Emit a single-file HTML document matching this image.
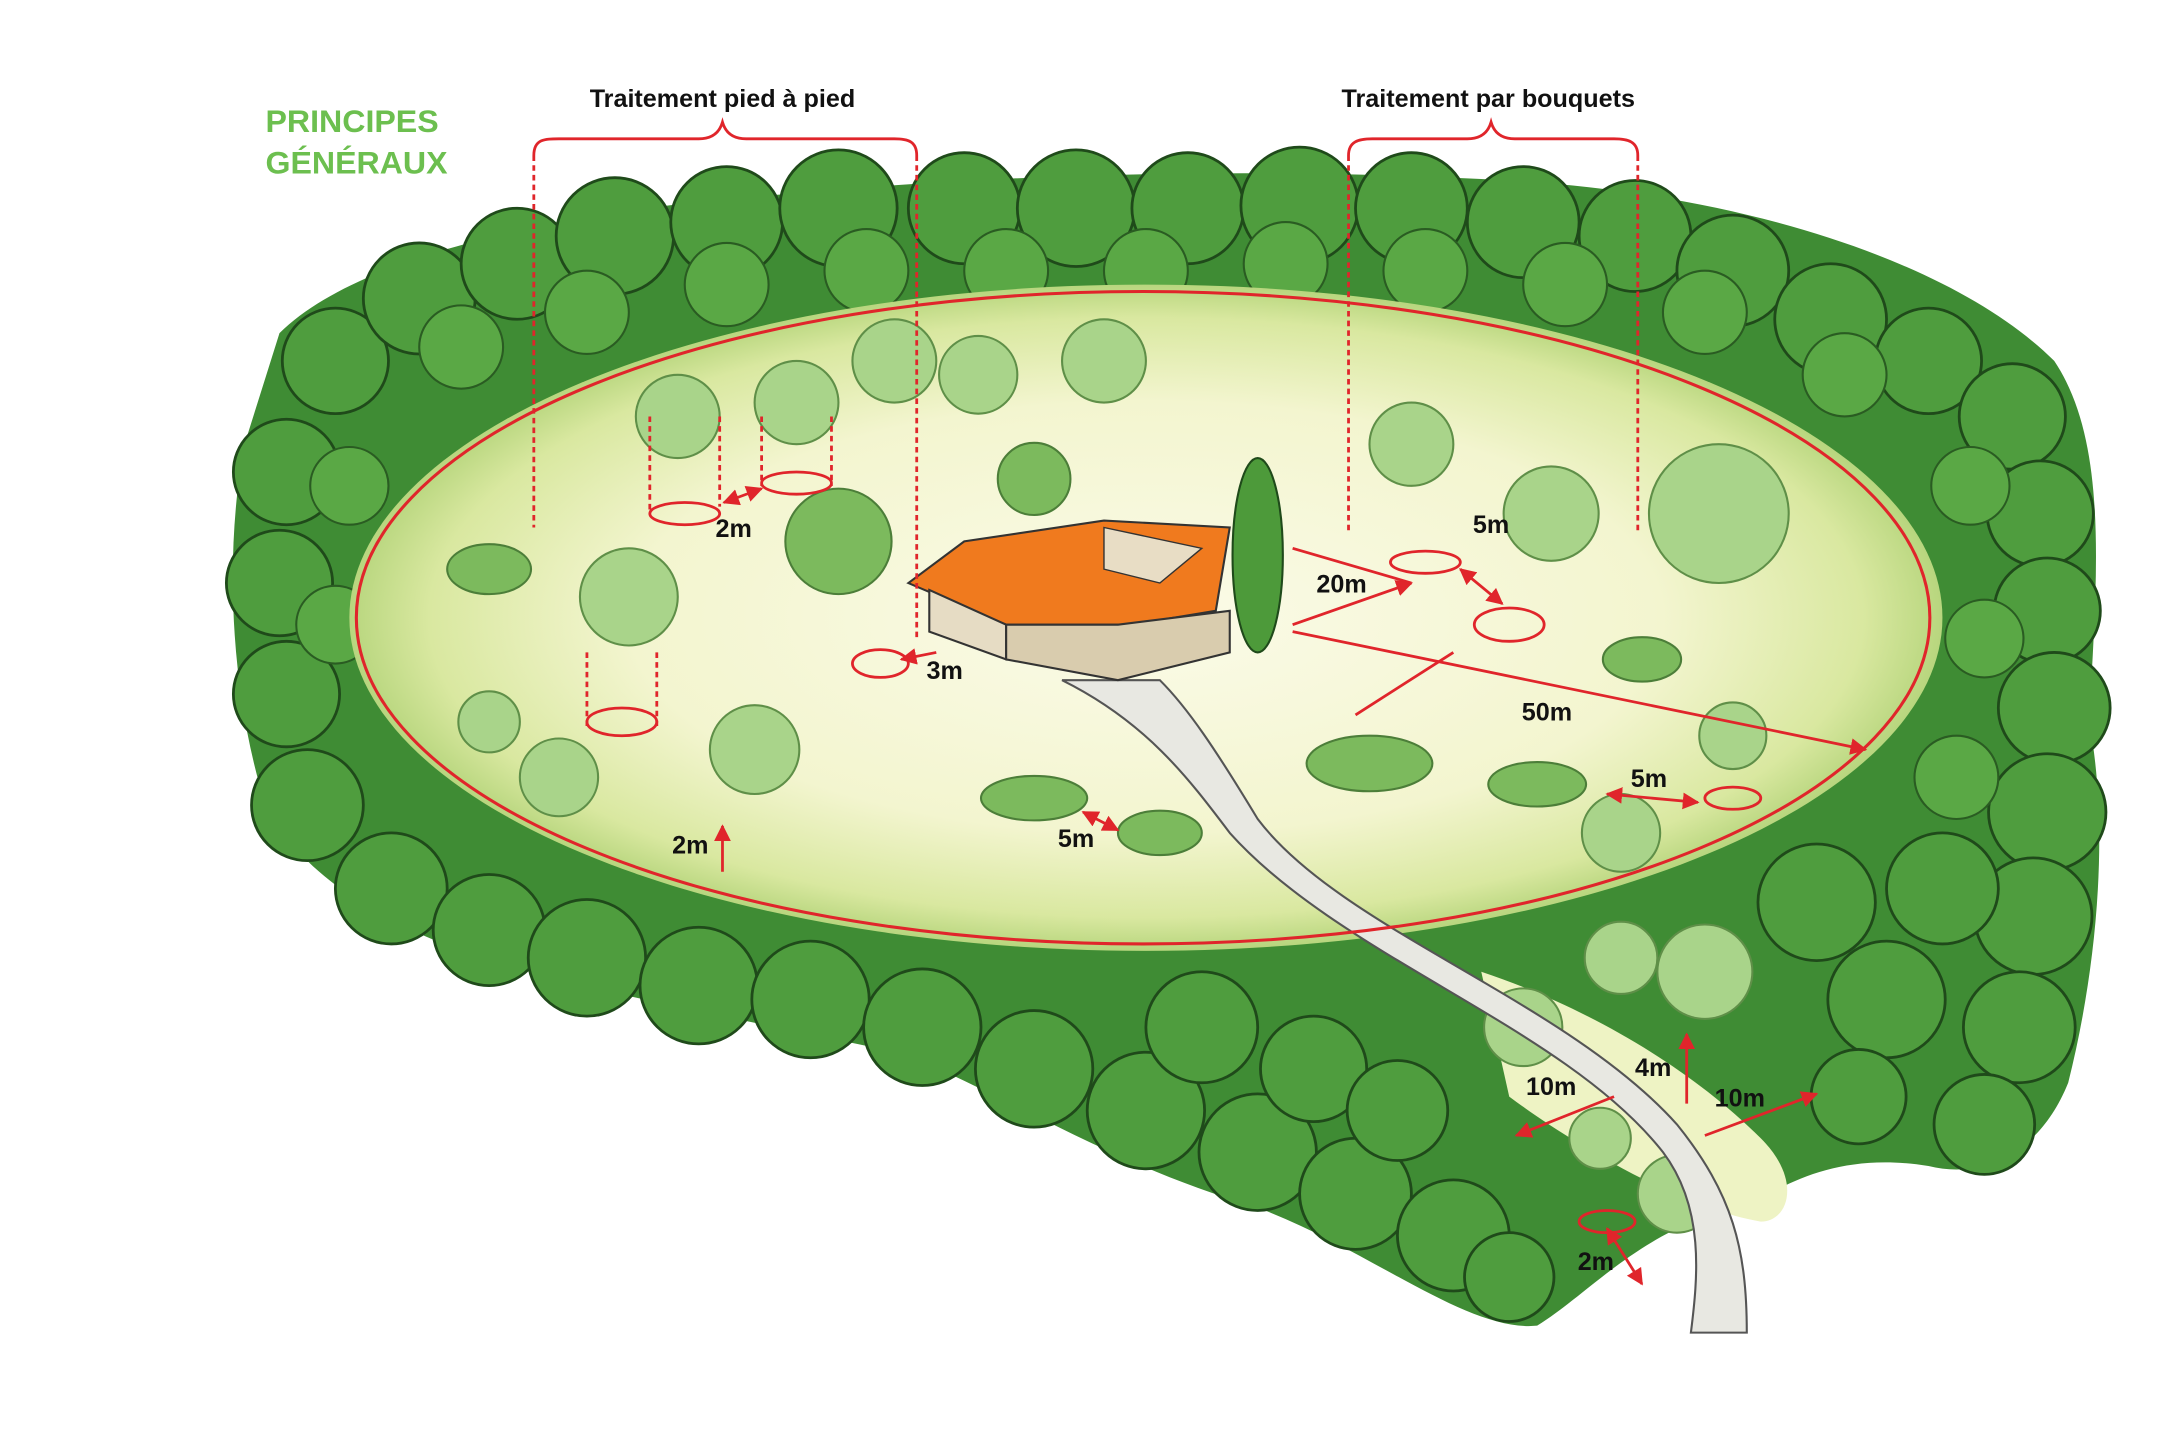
<!DOCTYPE html>
<html><head><meta charset="utf-8">
<style>
html,body{margin:0;padding:0;background:#fff;}
svg{display:block;}
text{font-family:"Liberation Sans",sans-serif;font-weight:bold;}
</style></head>
<body>
<svg width="2180" height="1452" viewBox="0 0 1560 1046" preserveAspectRatio="none" xmlns="http://www.w3.org/2000/svg">
<defs>
<radialGradient id="clr" cx="0.5" cy="0.5" r="0.5">
<stop offset="0" stop-color="#fbfbe8"/><stop offset="0.65" stop-color="#f3f5cf"/><stop offset="0.9" stop-color="#d9e8a0"/><stop offset="1" stop-color="#b8d67e"/>
</radialGradient>
<marker id="ar" viewBox="0 0 10 10" refX="9" refY="5" markerWidth="6" markerHeight="6" orient="auto-start-reverse"><path d="M0,0 L10,5 L0,10 z" fill="#e0252b"/></marker>
</defs>
<rect width="1560" height="1046" fill="#fff"/>
<path d="M200,240 C260,180 420,150 560,140 C720,125 900,120 1080,130 C1250,140 1400,190 1470,260 C1510,320 1500,420 1495,520 C1510,600 1500,700 1480,780 C1460,830 1420,850 1380,840 C1320,830 1280,850 1250,870 C1180,880 1140,930 1100,955 C1050,960 980,900 900,870 C800,840 740,800 650,760 C560,740 450,720 380,700 C300,680 220,640 190,580 C165,500 160,400 175,320 Z" fill="#3f8c34"/>
<g fill="#4f9d3e" stroke="#1f4a1a" stroke-width="2">
<circle cx="240" cy="260" r="38"/><circle cx="300" cy="215" r="40"/><circle cx="370" cy="190" r="40"/><circle cx="440" cy="170" r="42"/><circle cx="520" cy="160" r="40"/><circle cx="600" cy="150" r="42"/><circle cx="690" cy="150" r="40"/><circle cx="770" cy="150" r="42"/><circle cx="850" cy="150" r="40"/><circle cx="930" cy="148" r="42"/><circle cx="1010" cy="150" r="40"/><circle cx="1090" cy="160" r="40"/><circle cx="1170" cy="170" r="40"/><circle cx="1240" cy="195" r="40"/><circle cx="1310" cy="230" r="40"/><circle cx="1380" cy="260" r="38"/><circle cx="1440" cy="300" r="38"/><circle cx="1460" cy="370" r="38"/><circle cx="1465" cy="440" r="38"/><circle cx="1470" cy="510" r="40"/><circle cx="1465" cy="585" r="42"/><circle cx="1455" cy="660" r="42"/><circle cx="1445" cy="740" r="40"/><circle cx="1420" cy="810" r="36"/><circle cx="1350" cy="720" r="42"/><circle cx="1300" cy="650" r="42"/><circle cx="1390" cy="640" r="40"/><circle cx="1330" cy="790" r="34"/>
<circle cx="205" cy="340" r="38"/><circle cx="200" cy="420" r="38"/><circle cx="205" cy="500" r="38"/><circle cx="220" cy="580" r="40"/><circle cx="280" cy="640" r="40"/><circle cx="350" cy="670" r="40"/><circle cx="420" cy="690" r="42"/><circle cx="500" cy="710" r="42"/><circle cx="580" cy="720" r="42"/><circle cx="660" cy="740" r="42"/><circle cx="740" cy="770" r="42"/><circle cx="820" cy="800" r="42"/><circle cx="900" cy="830" r="42"/><circle cx="970" cy="860" r="40"/><circle cx="1040" cy="890" r="40"/><circle cx="1080" cy="920" r="32"/><circle cx="860" cy="740" r="40"/><circle cx="940" cy="770" r="38"/><circle cx="1000" cy="800" r="36"/>
</g>
<g fill="#5aa845" stroke="#2a5c22" stroke-width="1.5">
<circle cx="330" cy="250" r="30"/><circle cx="420" cy="225" r="30"/><circle cx="520" cy="205" r="30"/><circle cx="620" cy="195" r="30"/><circle cx="720" cy="195" r="30"/><circle cx="820" cy="195" r="30"/><circle cx="920" cy="190" r="30"/><circle cx="1020" cy="195" r="30"/><circle cx="1120" cy="205" r="30"/><circle cx="1220" cy="225" r="30"/><circle cx="1320" cy="270" r="30"/>
<circle cx="250" cy="350" r="28"/><circle cx="240" cy="450" r="28"/><circle cx="1410" cy="350" r="28"/><circle cx="1420" cy="460" r="28"/><circle cx="1400" cy="560" r="30"/>
</g>
<ellipse cx="820" cy="445" rx="570" ry="240" fill="url(#clr)"/>
<path d="M1060,700 C1120,720 1200,760 1260,820 C1290,850 1280,880 1260,880 C1200,870 1120,820 1080,790 Z" fill="#eef3c4"/>
<g fill="#a9d48a" stroke="#5f8f48" stroke-width="1.5">
<circle cx="485" cy="300" r="30"/><circle cx="570" cy="290" r="30"/><circle cx="640" cy="260" r="30"/><circle cx="700" cy="270" r="28"/><circle cx="790" cy="260" r="30"/><circle cx="1010" cy="320" r="30"/><circle cx="1110" cy="370" r="34"/><circle cx="1230" cy="370" r="50"/><circle cx="450" cy="430" r="35"/><circle cx="540" cy="540" r="32"/><circle cx="400" cy="560" r="28"/><circle cx="350" cy="520" r="22"/><circle cx="1160" cy="600" r="28"/><circle cx="1240" cy="530" r="24"/><circle cx="1160" cy="690" r="26"/><circle cx="1220" cy="700" r="34"/><circle cx="1090" cy="740" r="28"/><circle cx="1145" cy="820" r="22"/><circle cx="1200" cy="860" r="28"/>
</g>
<g fill="#7cba5d" stroke="#4c7e39" stroke-width="1.5">
<circle cx="600" cy="390" r="38"/><circle cx="740" cy="345" r="26"/>
<ellipse cx="980" cy="550" rx="45" ry="20"/><ellipse cx="740" cy="575" rx="38" ry="16"/><ellipse cx="830" cy="600" rx="30" ry="16"/><ellipse cx="1100" cy="565" rx="35" ry="16"/><ellipse cx="1175" cy="475" rx="28" ry="16"/><ellipse cx="350" cy="410" rx="30" ry="18"/>
</g>
<path d="M760,490 C820,520 850,560 880,600 C960,690 1120,740 1190,830 C1220,870 1215,920 1210,960 L1250,960 C1250,900 1240,860 1200,810 C1120,720 960,670 900,590 C870,540 850,510 830,490 Z" fill="#e8e8e2" stroke="#555" stroke-width="1.5"/>
<polygon points="650,420 690,390 790,375 880,380 870,440 810,450 720,450" fill="#f07a1e" stroke="#333" stroke-width="1.5"/>
<polygon points="665,425 720,450 720,475 665,455" fill="#e6dcc4" stroke="#333" stroke-width="1.5"/>
<polygon points="720,450 800,450 880,440 880,470 800,490 720,475" fill="#d9ccae" stroke="#333" stroke-width="1.5"/>
<path d="M790,380 L860,395 L830,420 L790,410 Z" fill="#e8ddc5" stroke="#333"/>
<ellipse cx="900" cy="400" rx="18" ry="70" fill="#4d9a3a" stroke="#1f4a1a" stroke-width="1.5"/>
<ellipse cx="818" cy="445" rx="563" ry="235" fill="none" stroke="#e0252b" stroke-width="2.2"/>
<g fill="none" stroke="#e0252b" stroke-width="2">
<path d="M382,112 C382,100 390,100 400,100 L500,100 C510,100 515,95 517,88 C519,95 524,100 534,100 L640,100 C650,100 656,102 656,112"/>
<path d="M965,112 C965,102 972,100 982,100 L1050,100 C1060,100 1065,95 1067,88 C1069,95 1074,100 1084,100 L1155,100 C1165,100 1172,102 1172,112"/>
</g>
<g stroke="#e0252b" stroke-width="2" stroke-dasharray="4,3" fill="none">
<line x1="382" y1="112" x2="382" y2="380"/><line x1="656" y1="112" x2="656" y2="460"/>
<line x1="965" y1="112" x2="965" y2="385"/><line x1="1172" y1="112" x2="1172" y2="385"/>
<line x1="465" y1="300" x2="465" y2="370"/><line x1="515" y1="300" x2="515" y2="365"/><line x1="545" y1="300" x2="545" y2="350"/><line x1="595" y1="300" x2="595" y2="350"/>
<line x1="420" y1="470" x2="420" y2="525"/><line x1="470" y1="470" x2="470" y2="525"/>
</g>
<g fill="none" stroke="#e0252b" stroke-width="2">
<ellipse cx="490" cy="370" rx="25" ry="8"/><ellipse cx="570" cy="348" rx="25" ry="8"/><ellipse cx="445" cy="520" rx="25" ry="10"/><ellipse cx="1020" cy="405" rx="25" ry="8"/><ellipse cx="1080" cy="450" rx="25" ry="12"/><ellipse cx="1240" cy="575" rx="20" ry="8"/><ellipse cx="630" cy="478" rx="20" ry="10"/><ellipse cx="1150" cy="880" rx="20" ry="8"/>
<line x1="518" y1="362" x2="545" y2="352" marker-end="url(#ar)" marker-start="url(#ar)"/>
<line x1="645" y1="475" x2="670" y2="470" marker-start="url(#ar)"/>
<line x1="925" y1="450" x2="1010" y2="420" marker-end="url(#ar)"/>
<line x1="925" y1="395" x2="1010" y2="420"/>
<line x1="925" y1="455" x2="1335" y2="540" marker-end="url(#ar)"/>
<line x1="970" y1="515" x2="1040" y2="470"/>
<line x1="1045" y1="410" x2="1075" y2="435" marker-end="url(#ar)" marker-start="url(#ar)"/>
<line x1="1150" y1="572" x2="1215" y2="578" marker-end="url(#ar)" marker-start="url(#ar)"/>
<line x1="775" y1="585" x2="800" y2="598" marker-end="url(#ar)" marker-start="url(#ar)"/>
<line x1="517" y1="628" x2="517" y2="595" marker-end="url(#ar)"/>
<line x1="1155" y1="790" x2="1085" y2="818" marker-end="url(#ar)"/>
<line x1="1220" y1="818" x2="1300" y2="788" marker-end="url(#ar)"/>
<line x1="1207" y1="795" x2="1207" y2="745" marker-end="url(#ar)"/>
<line x1="1150" y1="885" x2="1175" y2="925" marker-end="url(#ar)" marker-start="url(#ar)"/>
</g>
<text x="190" y="95" font-size="23" fill="#6cbf4f">PRINCIPES</text>
<text x="190" y="125" font-size="23" fill="#6cbf4f">GÉNÉRAUX</text>
<text x="517" y="77" font-size="18" fill="#111" text-anchor="middle">Traitement pied à pied</text>
<text x="1065" y="77" font-size="18" fill="#111" text-anchor="middle">Traitement par bouquets</text>
<g font-size="18" fill="#111" text-anchor="middle">
<text x="525" y="387">2m</text><text x="1067" y="384">5m</text><text x="960" y="427">20m</text><text x="676" y="489">3m</text><text x="1107" y="519">50m</text><text x="1180" y="567">5m</text><text x="494" y="615">2m</text><text x="770" y="610">5m</text><text x="1110" y="789">10m</text><text x="1183" y="775">4m</text><text x="1245" y="797">10m</text><text x="1142" y="915">2m</text>
</g>
</svg>
</body></html>
